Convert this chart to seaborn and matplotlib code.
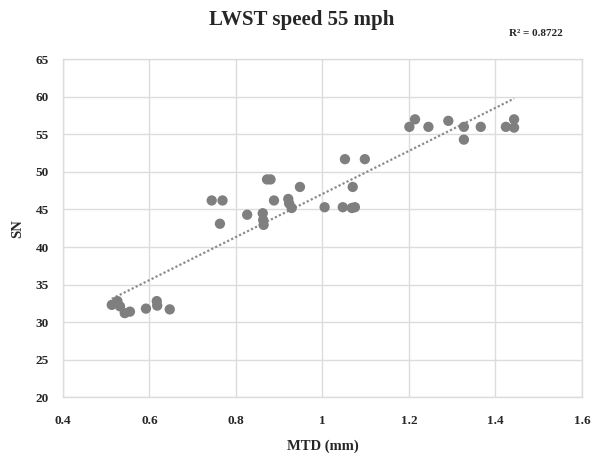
import numpy as np
import pandas as pd
import matplotlib
matplotlib.use("Agg")
import matplotlib.pyplot as plt
import seaborn as sns

mtd = [0.513, 0.526, 0.532, 0.543, 0.555, 0.592, 0.617, 0.618, 0.647,
       0.744, 0.769, 0.763, 0.826, 0.862, 0.863, 0.864, 0.872, 0.880, 0.888,
       0.921, 0.923, 0.929, 0.948, 1.005, 1.047, 1.068, 1.075, 1.070, 1.052, 1.098,
       1.201, 1.214, 1.245, 1.291, 1.327, 1.327, 1.366, 1.424, 1.443, 1.443]
sn = [32.3, 32.8, 32.1, 31.2, 31.4, 31.8, 32.8, 32.2, 31.7,
      46.2, 46.2, 43.1, 44.3, 44.5, 43.6, 42.95, 49.0, 49.0, 46.2,
      46.4, 45.8, 45.2, 48.0, 45.3, 45.3, 45.2, 45.3, 48.0, 51.7, 51.7,
      56.0, 57.0, 56.0, 56.8, 56.0, 54.3, 56.0, 56.0, 57.0, 55.9]
x_ticks = [0.4, 0.6, 0.8, 1.0, 1.2, 1.4, 1.6]
x_tick_labels = ["0.4", "0.6", "0.8", "1", "1.2", "1.4", "1.6"]
y_ticks = [20, 25, 30, 35, 40, 45, 50, 55, 60, 65]
r2_text = "R² = 0.8722"

df = pd.DataFrame({"MTD": mtd, "SN": sn})

sns.set_style("white")
plt.rcParams['font.family'] = ['Liberation Serif', 'DejaVu Serif']

fig = plt.figure(figsize=(5.99, 4.63), dpi=100)
ax = fig.add_axes([0.105, 0.142, 0.8666, 0.730])

grid_c = "#dcdcdc"
for xv in x_ticks:
    ax.axvline(xv, color=grid_c, lw=1.0, zorder=0)
for yv in y_ticks:
    ax.axhline(yv, color=grid_c, lw=1.0, zorder=0)

# trendline
coef = np.polyfit(df["MTD"], df["SN"], 1)
xs = np.linspace(df["MTD"].min(), df["MTD"].max(), 50)
ax.plot(xs, np.polyval(coef, xs), color="#8c8c8c", lw=1.6, ls=(0, (1, 1)), zorder=2)

sns.scatterplot(data=df, x="MTD", y="SN", ax=ax, color="#7f7f7f",
                s=55, edgecolor="none", linewidth=0, zorder=3)

ax.set_xlim(0.4, 1.6)
ax.set_ylim(20, 65)
ax.set_xticks(x_ticks)
ax.set_xticklabels(x_tick_labels)
ax.set_yticks(y_ticks)
for lab in ax.get_xticklabels() + ax.get_yticklabels():
    lab.set_fontweight("bold")
    lab.set_fontsize(9.5)
ax.tick_params(axis="x", length=0, pad=13)
ax.tick_params(axis="y", length=0, pad=10)
for s in ax.spines.values():
    s.set_color(grid_c)
    s.set_linewidth(1.0)

ax.set_xlabel("MTD (mm)", fontsize=10.5, fontweight="bold", labelpad=9)
ax.set_ylabel("SN", fontsize=10.5, fontweight="bold", labelpad=8)

fig.text(0.504, 0.956, "LWST speed 55 mph", ha="center", va="center",
         fontsize=15, fontweight="bold")
fig.text(0.894, 0.928, r2_text, ha="center", va="center",
         fontsize=8, fontweight="bold")

fig.savefig("out.png", dpi=100)
